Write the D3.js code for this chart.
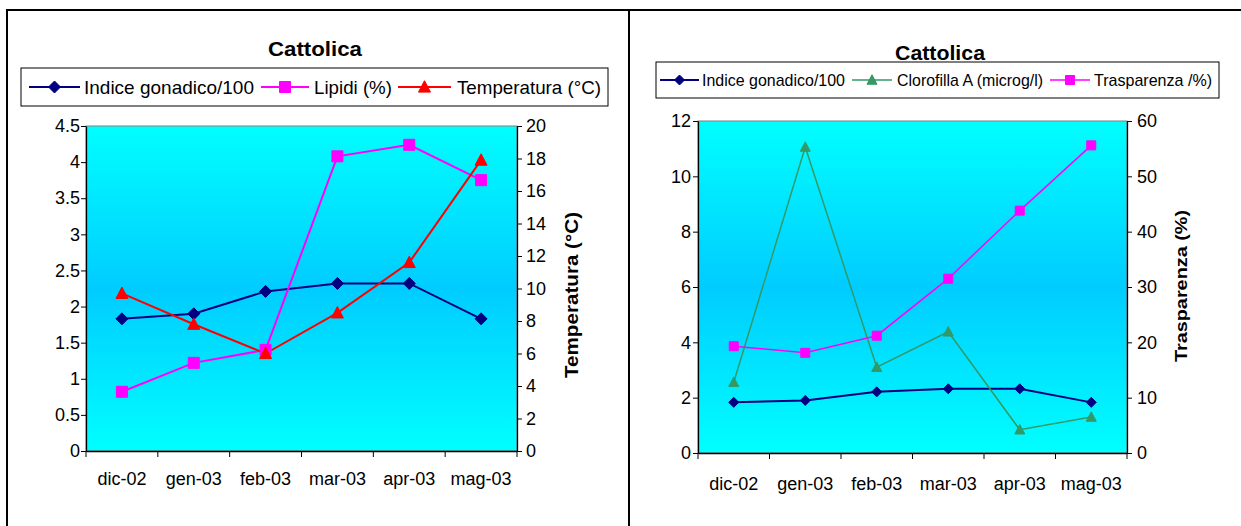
<!DOCTYPE html>
<html>
<head>
<meta charset="utf-8">
<script src="https://cdn.jsdelivr.net/npm/d3@7"></script>
<style>
  html, body { margin: 0; padding: 0; background: #fff; }
  svg { display: block; font-family: "Liberation Sans", Arial, sans-serif; }
</style>
</head>
<body>
<svg id="chart" width="1241" height="526"></svg>
<script>
// ---------------- DATA ----------------
const categories = ["dic-02", "gen-03", "feb-03", "mar-03", "apr-03", "mag-03"];
const indiceGonadico = [1.83, 1.90, 2.21, 2.32, 2.32, 1.83];
const lipidi = [0.82, 1.22, 1.40, 4.08, 4.24, 3.75];
const temperatura = [9.7, 7.8, 6.0, 8.5, 11.6, 17.9];
const clorofillaA = [2.56, 11.06, 3.1, 4.38, 0.84, 1.3];
const trasparenza = [19.3, 18.1, 21.2, 31.5, 43.8, 55.6];

const leftTicksA = [0, 0.5, 1, 1.5, 2, 2.5, 3, 3.5, 4, 4.5];
const rightTicksA = [0, 2, 4, 6, 8, 10, 12, 14, 16, 18, 20];
const leftTicksB = [0, 2, 4, 6, 8, 10, 12];
const rightTicksB = [0, 10, 20, 30, 40, 50, 60];

const titleText = "Cattolica";
const legendA = ["Indice gonadico/100", "Lipidi (%)", "Temperatura (°C)"];
const legendB = ["Indice gonadico/100", "Clorofilla A (microg/l)", "Trasparenza /%)"];
const axisTitleA = "Temperatura (°C)";
const axisTitleB = "Trasparenza (%)";

// ---------------- DRAW ----------------
const svg = d3.select("#chart");
svg.append("rect").attr("width", 1241).attr("height", 526).attr("fill", "#fff");

const defs = svg.append("defs");
const grad = defs.append("linearGradient").attr("id", "bg").attr("x1", 0).attr("y1", 0).attr("x2", 0).attr("y2", 1);
grad.append("stop").attr("offset", "0%").attr("stop-color", "#00FFFF");
grad.append("stop").attr("offset", "50%").attr("stop-color", "#00CCFF");
grad.append("stop").attr("offset", "100%").attr("stop-color", "#00FFFF");

// frame
svg.append("line").attr("x1", 6).attr("x2", 1241).attr("y1", 10).attr("y2", 10).attr("stroke", "#000").attr("stroke-width", 2);
svg.append("line").attr("x1", 7).attr("x2", 7).attr("y1", 9).attr("y2", 526).attr("stroke", "#000").attr("stroke-width", 2);
svg.append("line").attr("x1", 629).attr("x2", 629).attr("y1", 9).attr("y2", 526).attr("stroke", "#000").attr("stroke-width", 2);

function markerPath(type, s) {
  const h = s / 2;
  if (type === "diamond") return `M0,${-h}L${h},0L0,${h}L${-h},0Z`;
  if (type === "square") return `M${-h},${-h}H${h}V${h}H${-h}Z`;
  return `M0,${-h * 1.05}L${h},${h * 0.85}L${-h},${h * 0.85}Z`;
}

function drawChart(cfg) {
  const g = svg.append("g");
  const x = d3.scaleBand().domain(categories).range([cfg.left, cfg.right]).padding(0);
  const yL = d3.scaleLinear().domain(cfg.yLDomain).range([cfg.bottom, cfg.top]);
  const yR = d3.scaleLinear().domain(cfg.yRDomain).range([cfg.bottom, cfg.top]);

  g.append("rect").attr("x", cfg.left).attr("y", cfg.top)
    .attr("width", cfg.right - cfg.left).attr("height", cfg.bottom - cfg.top)
    .attr("fill", "url(#bg)").attr("stroke", "#808080").attr("stroke-width", 1);

  const axL = g.append("g").attr("transform", `translate(${cfg.left},0)`)
    .call(d3.axisLeft(yL).tickValues(cfg.leftTicks).tickSize(5).tickSizeOuter(0).tickFormat(d3.format("")));
  const axR = g.append("g").attr("transform", `translate(${cfg.right},0)`)
    .call(d3.axisRight(yR).tickValues(cfg.rightTicks).tickSize(5).tickSizeOuter(0).tickFormat(d3.format("")));
  const axB = g.append("g").attr("transform", `translate(0,${cfg.bottom})`)
    .call(d3.axisBottom(x).tickSize(0).tickSizeOuter(0));
  const bounds = categories.map(c => x(c)).concat([cfg.right]);
  g.append("g").selectAll("line").data(bounds).join("line")
    .attr("x1", d => d).attr("x2", d => d).attr("y1", cfg.bottom).attr("y2", cfg.bottom + 6)
    .attr("stroke", "#000").attr("stroke-width", 1);

  [axL, axR, axB].forEach(a => {
    a.select(".domain").attr("stroke", "#000").attr("stroke-width", 1.3);
    a.selectAll(".tick line").attr("stroke", "#000");
    a.selectAll("text").attr("fill", "#000").attr("font-size", cfg.tickFont).attr("font-family", "Liberation Sans, Arial, sans-serif");
  });
  axL.selectAll("text").attr("x", -cfg.tickPadL);
  axR.selectAll("text").attr("x", cfg.tickPadR);
  axB.selectAll("text").attr("dy", 0).attr("y", cfg.xLabelOffset).attr("dominant-baseline", "middle")
    .attr("font-size", cfg.catFont);

  g.append("text").attr("transform", `translate(${cfg.axisTitleX},${cfg.axisTitleY}) rotate(-90)`)
    .attr("text-anchor", "middle").attr("font-weight", "bold").attr("font-size", cfg.axisTitleFont)
    .attr("textLength", cfg.axisTitleLen).attr("lengthAdjust", "spacingAndGlyphs")
    .attr("dominant-baseline", "middle").text(cfg.axisTitle);

  cfg.series.forEach(s => {
    const y = s.axis === "L" ? yL : yR;
    const line = d3.line().x((d, i) => x(categories[i]) + x.bandwidth() / 2).y(d => y(d));
    g.append("path").datum(s.values).attr("d", line).attr("fill", "none")
      .attr("stroke", s.color).attr("stroke-width", s.width);
  });
  cfg.series.forEach(s => {
    const y = s.axis === "L" ? yL : yR;
    g.append("g").selectAll("path").data(s.values).join("path")
      .attr("transform", (d, i) => `translate(${x(categories[i]) + x.bandwidth() / 2},${y(d)})`)
      .attr("d", markerPath(s.marker, s.msize))
      .attr("fill", s.color).attr("stroke", s.color).attr("stroke-width", 1);
  });

  g.append("text").attr("x", cfg.titleX).attr("y", cfg.titleY).attr("text-anchor", "middle")
    .attr("font-weight", "bold").attr("font-size", cfg.titleFont)
    .attr("textLength", cfg.titleLen).attr("lengthAdjust", "spacingAndGlyphs")
    .text(titleText);

  const L = cfg.legend;
  g.append("rect").attr("x", L.x0).attr("y", L.y0).attr("width", L.x1 - L.x0).attr("height", L.y1 - L.y0)
    .attr("fill", "#fff").attr("stroke", "#000").attr("stroke-width", 1);
  const ly = (L.y0 + L.y1) / 2;
  L.items.forEach(it => {
    const s = cfg.series[it.series];
    g.append("line").attr("x1", it.lx0).attr("x2", it.lx1).attr("y1", ly).attr("y2", ly)
      .attr("stroke", s.color).attr("stroke-width", s.width);
    g.append("path").attr("transform", `translate(${(it.lx0 + it.lx1) / 2},${ly})`)
      .attr("d", markerPath(s.marker, s.msize))
      .attr("fill", s.color).attr("stroke", s.color);
    g.append("text").attr("x", it.tx).attr("y", ly).attr("dominant-baseline", "central")
      .attr("font-size", L.font).attr("textLength", it.tlen).attr("lengthAdjust", "spacingAndGlyphs")
      .text(it.text);
  });
}

drawChart({
  left: 86, right: 517, top: 126, bottom: 451,
  yLDomain: [0, 4.5], yRDomain: [0, 20],
  leftTicks: leftTicksA, rightTicks: rightTicksA,
  tickFont: 18, catFont: 18, tickPadL: 6, tickPadR: 9, xLabelOffset: 29,
  axisTitle: axisTitleA, axisTitleX: 573, axisTitleY: 295, axisTitleFont: 18, axisTitleLen: 166,
  titleX: 315, titleY: 56, titleFont: 21, titleLen: 94,
  series: [
    { values: indiceGonadico, axis: "L", color: "#000080", width: 2, marker: "diamond", msize: 12 },
    { values: lipidi, axis: "L", color: "#FF00FF", width: 2, marker: "square", msize: 11 },
    { values: temperatura, axis: "R", color: "#FF0000", width: 2, marker: "triangle", msize: 12 }
  ],
  legend: {
    x0: 21, x1: 608, y0: 68, y1: 106, font: 19,
    items: [
      { series: 0, lx0: 29, lx1: 80, tx: 84, tlen: 170, text: legendA[0] },
      { series: 1, lx0: 261, lx1: 309, tx: 314, tlen: 78, text: legendA[1] },
      { series: 2, lx0: 398, lx1: 451, tx: 457, tlen: 144, text: legendA[2] }
    ]
  }
});

drawChart({
  left: 698, right: 1127, top: 121, bottom: 453,
  yLDomain: [0, 12], yRDomain: [0, 60],
  leftTicks: leftTicksB, rightTicks: rightTicksB,
  tickFont: 18, catFont: 18, tickPadL: 7, tickPadR: 10, xLabelOffset: 32,
  axisTitle: axisTitleB, axisTitleX: 1183, axisTitleY: 286, axisTitleFont: 17, axisTitleLen: 152,
  titleX: 940, titleY: 60, titleFont: 21, titleLen: 90,
  series: [
    { values: indiceGonadico, axis: "L", color: "#000080", width: 2, marker: "diamond", msize: 10 },
    { values: clorofillaA, axis: "L", color: "#339966", width: 1.5, marker: "triangle", msize: 10 },
    { values: trasparenza, axis: "R", color: "#FF00FF", width: 1.5, marker: "square", msize: 9 }
  ],
  legend: {
    x0: 656, x1: 1219, y0: 62, y1: 98, font: 17,
    items: [
      { series: 0, lx0: 660, lx1: 699, tx: 702, tlen: 143, text: legendB[0] },
      { series: 1, lx0: 852, lx1: 892, tx: 897, tlen: 146, text: legendB[1] },
      { series: 2, lx0: 1050, lx1: 1090, tx: 1094, tlen: 118, text: legendB[2] }
    ]
  }
});
</script>
</body>
</html>
